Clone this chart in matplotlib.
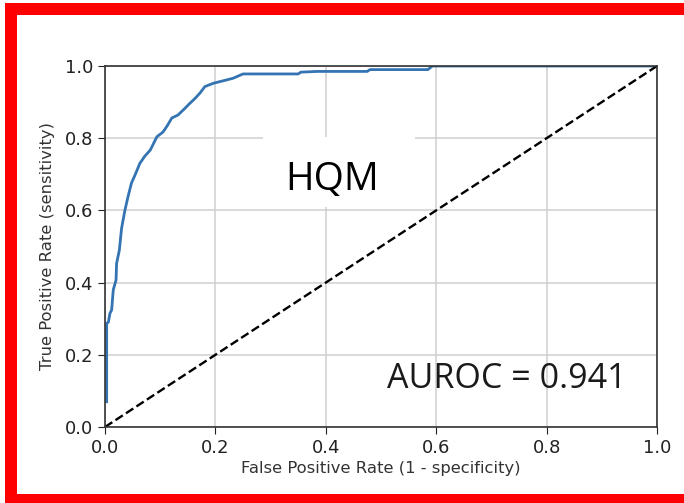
import matplotlib
matplotlib.use('Agg')
import matplotlib.pyplot as plt
from matplotlib.patches import Rectangle

# ROC curve
fpr = [0.003, 0.003, 0.006, 0.009, 0.012, 0.015, 0.020, 0.021, 0.026, 0.030,
       0.036, 0.042, 0.048, 0.055, 0.063, 0.072, 0.082, 0.094, 0.105, 0.113,
       0.121, 0.132, 0.143, 0.154, 0.163, 0.172, 0.181, 0.196, 0.214, 0.232,
       0.250, 0.350, 0.355, 0.385, 0.475, 0.480, 0.585, 0.593, 1.0]
tpr = [0.07, 0.287, 0.29, 0.315, 0.324, 0.38, 0.407, 0.453, 0.49, 0.55,
       0.60, 0.64, 0.676, 0.70, 0.73, 0.75, 0.767, 0.804, 0.817, 0.835,
       0.856, 0.864, 0.88, 0.897, 0.91, 0.925, 0.943, 0.952, 0.959, 0.966,
       0.978, 0.978, 0.983, 0.985, 0.985, 0.99, 0.99, 1.0, 1.0]
chance = [0.0, 1.0]
ticks = [0.0, 0.2, 0.4, 0.6, 0.8, 1.0]
model_name = 'HQM'
auroc = 0.941

dpi = 100
fig = plt.figure(dpi=dpi, figsize=(684 / dpi, 503 / dpi))
ax = fig.add_axes([105 / 684, 1 - 427 / 503, 552 / 684, 361 / 503])

ax.grid(True, color='#cfcfcf', linewidth=1.1, zorder=0)
ax.set_axisbelow(True)
ax.plot(fpr, tpr, color='#3474b2', linewidth=2.0, zorder=2)
ax.plot(chance, chance, 'k--', linewidth=1.7, zorder=2)

ax.set_xlim(0, 1)
ax.set_ylim(0, 1)
ax.set_xticks(ticks)
ax.set_yticks(ticks)
ax.tick_params(labelsize=13, colors='#222222', length=5)
for s in ax.spines.values():
    s.set_color('#333333')
    s.set_linewidth(1.2)
    s.set_zorder(5)
ax.set_xlabel('False Positive Rate (1 - specificity)', fontsize=11.8, color='#333333', labelpad=3)
ax.set_ylabel('True Positive Rate (sensitivity)', fontsize=11.8, color='#333333', labelpad=7)

# white patch behind the model name
ax.add_patch(Rectangle((0.286, 0.61), 0.276, 0.193, transform=ax.transAxes,
                       facecolor='white', edgecolor='none', zorder=1))
ax.text(0.411, 0.656, model_name, fontsize=28, family=['Open Sans', 'DejaVu Sans'],
        ha='center', va='baseline', color='black', zorder=4)
ax.text(0.727, 0.108, 'AUROC = %.3f' % auroc, fontsize=24.5,
        family=['Open Sans', 'DejaVu Sans'], ha='center', va='baseline',
        color='#1a1a1a', zorder=4)

# red frame (open on the right side)
red = '#ff0000'
fig.patches.append(Rectangle((5 / 684, 0), 12 / 684, 1 - 3 / 503, transform=fig.transFigure,
                             facecolor=red, edgecolor='none'))
fig.patches.append(Rectangle((5 / 684, 1 - 15 / 503), 1, 12 / 503, transform=fig.transFigure,
                             facecolor=red, edgecolor='none'))
fig.patches.append(Rectangle((5 / 684, 0), 1, 9 / 503, transform=fig.transFigure,
                             facecolor=red, edgecolor='none'))

fig.savefig('out.png', dpi=dpi)
